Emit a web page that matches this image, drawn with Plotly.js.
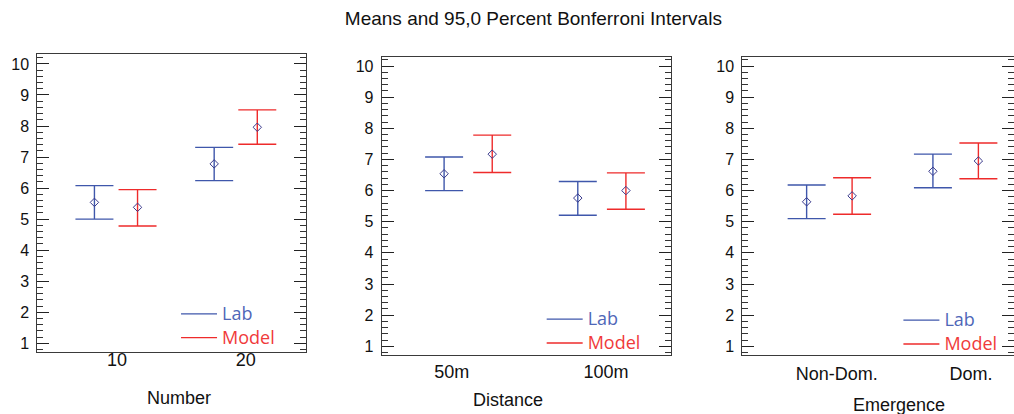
<!DOCTYPE html>
<html>
<head>
<meta charset="utf-8">
<script src="https://cdn.plot.ly/plotly-3.0.1.min.js"></script>
<style>html,body{margin:0;padding:0;background:#fff;}#chart{width:1014px;height:414px;}</style>
</head>
<body>
<div id="chart"></div>
<script>
// ---- data ----
const seriesNames = ['Lab', 'Model'];

const numberCats = ['10', '20'];
const numberLabMean = [5.54, 6.78];
const numberLabLower = [5.00, 6.24];
const numberLabUpper = [6.08, 7.31];
const numberModelMean = [5.38, 7.96];
const numberModelLower = [4.78, 7.41];
const numberModelUpper = [5.95, 8.52];

const distanceCats = ['50m', '100m'];
const distanceLabMean = [6.54, 5.76];
const distanceLabLower = [6.00, 5.21];
const distanceLabUpper = [7.08, 6.29];
const distanceModelMean = [7.17, 6.00];
const distanceModelLower = [6.58, 5.40];
const distanceModelUpper = [7.78, 6.57];

const emergenceCats = ['Non-Dom.', 'Dom.'];
const emergenceLabMean = [5.64, 6.62];
const emergenceLabLower = [5.10, 6.09];
const emergenceLabUpper = [6.18, 7.17];
const emergenceModelMean = [5.83, 6.95];
const emergenceModelLower = [5.24, 6.38];
const emergenceModelUpper = [6.41, 7.53];

const axisTitles = ['Number', 'Distance', 'Emergence'];
const yTicks = [1, 2, 3, 4, 5, 6, 7, 8, 9, 10];

// ---- styling ----
const lineColors = ['#3f57ab', '#ee2b2b'];
const textColors = ['#4f67b8', '#f03a3a'];
const seriesOffset = [-0.18, 0.18];
const font = 'Liberation Sans, Arial, sans-serif';

const panelDefs = [
  {cats: numberCats, sfx: '',
   s: [[numberLabMean, numberLabLower, numberLabUpper], [numberModelMean, numberModelLower, numberModelUpper]],
   xdom: [0.0368, 0.3018], ydom: [0.1498, 0.8696], xr: [-0.657, 1.587], yr: [0.72, 10.32],
   labelShift: [0.008, 0.084], standoff: -9, leg: [0.1736, 0.2826], title: [0.1765, 0.0386]},
  {cats: distanceCats, sfx: '2',
   s: [[distanceLabMean, distanceLabLower, distanceLabUpper], [distanceModelMean, distanceModelLower, distanceModelUpper]],
   xdom: [0.3764, 0.6617], ydom: [0.1425, 0.8616], xr: [-0.647, 1.517], yr: [0.72, 10.28],
   labelShift: [-0.123, 0.031], standoff: 0, leg: [0.5342, 0.2698], title: [0.5013, 0.0338]},
  {cats: emergenceCats, sfx: '3',
   s: [[emergenceLabMean, emergenceLabLower, emergenceLabUpper], [emergenceModelMean, emergenceModelLower, emergenceModelUpper]],
   xdom: [0.7321, 1.0], ydom: [0.1425, 0.8616], xr: [-0.689, 1.462], yr: [0.72, 10.28],
   labelShift: [0.058, 0.121], standoff: 2, leg: [0.8860, 0.2674], title: [0.8866, 0.0217]}
];

const traces = [];
const layout = {
  width: 1014, height: 414,
  margin: {l: 0, r: 0, t: 0, b: 0},
  paper_bgcolor: '#fff', plot_bgcolor: '#fff',
  font: {family: font, color: '#111'},
  title: {text: 'Means and 95,0 Percent Bonferroni Intervals', x: 0.526, xanchor: 'center',
          y: 0.9565, yanchor: 'middle', yref: 'paper', font: {family: font, size: 19, color: '#111'}},
  annotations: [],
  showlegend: true
};

panelDefs.forEach((p, pi) => {
  const xa = 'x' + p.sfx, ya = 'y' + p.sfx;
  p.s.forEach((arr, si) => {
    const [mean, lower, upper] = arr;
    traces.push({
      type: 'scatter', mode: 'markers', xaxis: xa, yaxis: ya, showlegend: false,
      x: p.cats.map((c, i) => i + seriesOffset[si]),
      y: mean,
      error_y: {type: 'data', symmetric: false,
        array: mean.map((m, i) => upper[i] - m),
        arrayminus: mean.map((m, i) => m - lower[i]),
        color: lineColors[si], thickness: 1.4, width: 19},
      marker: {symbol: 'diamond-open', size: 6.5, color: '#3a3a8c', line: {width: 1}},
      hoverinfo: 'skip'
    });
  });
  seriesNames.forEach((n, si) => {
    traces.push({
      type: 'scatter', mode: 'lines', xaxis: xa, yaxis: ya,
      x: [null], y: [null],
      name: '<span style="color:' + textColors[si] + ';font-size:18px">' + n + '</span>',
      line: {color: lineColors[si], width: 1.3},
      legend: pi === 0 ? 'legend' : 'legend' + (pi + 1)
    });
  });
  const legKey = pi === 0 ? 'legend' : 'legend' + (pi + 1);
  layout[legKey] = {x: p.leg[0], y: p.leg[1], xanchor: 'left', yanchor: 'top', xref: 'paper', yref: 'paper',
    bgcolor: 'rgba(0,0,0,0)', font: {family: 'Open Sans, sans-serif', size: 16}, traceorder: 'normal',
    itemwidth: 36, tracegroupgap: 0};
  layout['xaxis' + p.sfx] = {
    domain: p.xdom, anchor: ya, range: p.xr,
    tickmode: 'array', tickvals: p.cats.map((c, i) => i + p.labelShift[i]), ticktext: p.cats,
    ticks: '', showline: true, mirror: true, linecolor: '#3a3a3a', linewidth: 1,
    showgrid: false, zeroline: false, ticklabelstandoff: p.standoff,
    tickfont: {family: font, size: 18, color: '#111'}, fixedrange: true
  };
  layout['yaxis' + p.sfx] = {
    domain: p.ydom, anchor: xa, range: p.yr,
    tickmode: 'array', tickvals: yTicks,
    ticks: 'inside', ticklen: 12, tickcolor: '#222', tickwidth: 1,
    showline: true, mirror: 'ticks', linecolor: '#3a3a3a', linewidth: 1,
    showgrid: false, zeroline: false, ticklabelstandoff: 4,
    minor: {dtick: 0.2, tick0: 0, ticks: 'inside', ticklen: 6, tickcolor: '#333', tickwidth: 1, showgrid: false},
    tickfont: {family: font, size: 16, color: '#111'}, fixedrange: true
  };
  layout.annotations.push({text: axisTitles[pi], xref: 'paper', yref: 'paper', x: p.title[0], y: p.title[1],
    xanchor: 'center', yanchor: 'middle', showarrow: false, font: {family: font, size: 18, color: '#111'}});
});

Plotly.newPlot('chart', traces, layout, {displayModeBar: false, staticPlot: true});
</script>
</body>
</html>
